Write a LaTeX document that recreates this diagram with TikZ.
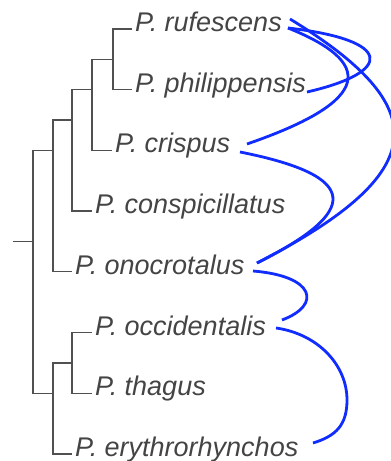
\documentclass[tikz,border=0pt]{standalone}
\usepackage{fontspec}
\setmainfont{Liberation Sans}
\definecolor{treegray}{RGB}{80,80,80}
\definecolor{txtgray}{RGB}{68,68,68}
\definecolor{linkblue}{RGB}{16,44,255}
\begin{document}
\begin{tikzpicture}[x=1pt,y=-1pt,
  branch/.style={draw=treegray,line width=1.3pt},
  taxon/.style={anchor=base west,inner sep=0pt,text=txtgray,font=\fontsize{27}{30}\selectfont\itshape},
  link/.style={draw=linkblue,line width=2.8pt}]
\useasboundingbox (0,0) rectangle (391,461);
% leaf tips
\coordinate (l0) at (132,29);
\coordinate (l1) at (132,89.7);
\coordinate (l2) at (112,150.4);
\coordinate (l3) at (92,211.1);
\coordinate (l4) at (72,271.8);
\coordinate (l5) at (92,332.5);
\coordinate (l6) at (92,393.2);
\coordinate (l7) at (72,453.9);
% internal nodes
\coordinate (nA) at (113,59.35);
\coordinate (nB) at (92,89.7);
\coordinate (nC) at (72,120.05);
\coordinate (nD) at (53,150.4);
\coordinate (nE) at (72,362.85);
\coordinate (nF) at (53,393.2);
\coordinate (nR) at (33,241.45);
\coordinate (nS) at (13,241.45);
% branches
\path[branch] (nA) |- (l0);
\path[branch] (nA) |- (l1);
\path[branch] (nB) |- (nA);
\path[branch] (nB) |- (l2);
\path[branch] (nC) |- (nB);
\path[branch] (nC) |- (l3);
\path[branch] (nD) |- (nC);
\path[branch] (nD) |- (l4);
\path[branch] (nE) |- (l5);
\path[branch] (nE) |- (l6);
\path[branch] (nF) |- (nE);
\path[branch] (nF) |- (l7);
\path[branch] (nR) |- (nD);
\path[branch] (nR) |- (nF);
\path[branch] (nS) -- (nR);
% taxa
\node[taxon] (ruf) at (135,31.5) {P. rufescens};
\node[taxon] (phi) at (135,92.2) {P. philippensis};
\node[taxon] (cri) at (115,152.9) {P. crispus};
\node[taxon] (con) at (95,213.6) {P. conspicillatus};
\node[taxon] (ono) at (75,274.3) {P. onocrotalus};
\node[taxon] (occ) at (95,335) {P. occidentalis};
\node[taxon] (tha) at (95,395.7) {P. thagus};
\node[taxon] (ery) at (75,456.4) {P. erythrorhynchos};
% link ports
\coordinate (rufA) at (290,19);
\coordinate (rufB) at (288,28);
\coordinate (phiA) at (307,92);
\coordinate (criA) at (247,144);
\coordinate (criB) at (240,152);
\coordinate (onoA) at (257,263);
\coordinate (onoB) at (253,271);
\coordinate (occA) at (282,320);
\coordinate (occB) at (276,328);
\coordinate (eryA) at (313,443);
% links
\path[link] (rufA) .. controls (434,107) and (434,172) .. (onoA);
\path[link] (rufB) .. controls (373,62) and (375,100) .. (criA);
\path[link] (rufB) .. controls (394,40) and (394,72) .. (phiA);
\path[link] (criB) .. controls (361,176) and (361,211) .. (onoA);
\path[link] (onoB) .. controls (315,276) and (322,305) .. (occA);
\path[link] (occB) .. controls (318,334) and (347,365) .. (347,400) .. controls (347,425) and (336,436) .. (eryA);
\end{tikzpicture}
\end{document}
